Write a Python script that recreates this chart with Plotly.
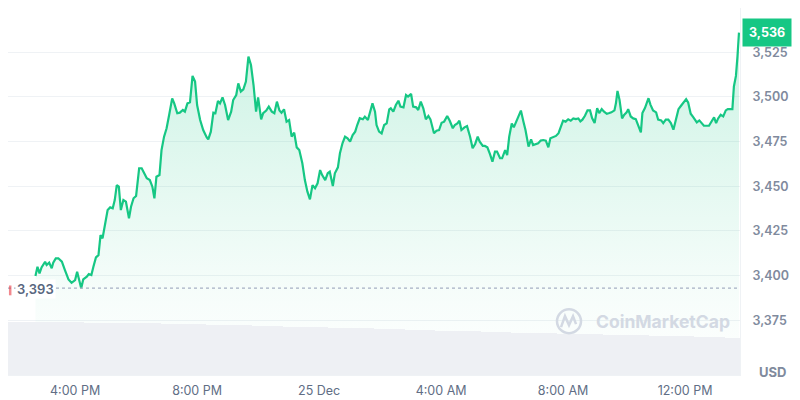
import pandas as pd
import plotly.graph_objects as go

# ---------------- data ----------------
start_time = "2024-12-24 13:48"
end_time = "2024-12-25 13:48"

price_minutes = [
    54, 58, 62, 66, 73, 76, 81, 86, 89, 94, 99, 106, 112, 119, 125, 132, 136, 140, 144, 148,
    155, 159, 164, 168, 173, 178, 182, 186, 191, 196, 201, 206, 210, 214, 218, 222, 227, 232, 238, 242,
    247, 252, 258, 263, 268, 273, 279, 284, 288, 292, 298, 302, 307, 312, 317, 323, 327, 333, 338, 344,
    348, 353, 358, 363, 368, 372, 378, 384, 391,
    394, 399, 404, 408, 413, 417, 422, 427, 433, 439, 443, 449, 453, 458, 463, 468, 473, 478, 483, 488,
    492, 498, 502, 508, 513, 519, 524, 529, 534, 538, 543, 548, 553, 558, 563, 568, 573, 579, 584, 589,
    594, 599, 604, 609, 614, 618, 624, 629, 633, 639, 643, 649, 653, 658, 663, 668, 673, 678, 683, 687,
    692, 698, 702, 708, 712, 717, 722, 725, 730, 735, 740, 745, 750,
    753, 758, 763, 768, 772, 778, 783, 787, 793, 797, 803, 807, 812, 817, 822, 827, 831, 838, 843, 848,
    853, 858, 864, 869, 875, 879, 884, 888, 892, 898, 903, 909, 914, 919, 924, 928, 934, 938, 943, 948,
    953, 958, 962, 968, 972, 978, 982, 986, 991, 995, 1001, 1005, 1009, 1014, 1018, 1024, 1029, 1033, 1039, 1043,
    1048, 1053, 1058, 1063, 1067, 1073, 1078, 1083, 1087, 1092, 1097, 1102,
    1107, 1112, 1117, 1122, 1126, 1130, 1135, 1140, 1145, 1149, 1154, 1159, 1163, 1168, 1172, 1178, 1183, 1187, 1193, 1196,
    1199, 1203, 1208, 1212, 1217, 1220, 1225, 1230, 1235, 1240, 1245, 1248, 1253, 1260, 1264, 1269, 1275, 1279, 1285, 1289,
    1294, 1299, 1304, 1309, 1314, 1319, 1324, 1328, 1334, 1338, 1343, 1348, 1355, 1360, 1364, 1369, 1374, 1379, 1384, 1389,
    1393, 1397, 1402, 1407, 1412, 1416, 1420, 1425, 1428, 1432, 1435, 1438,
]

price_values = [
    3399.8, 3405.0, 3401.3, 3404.6, 3407.8, 3406.0, 3407.3, 3404.1, 3407.3, 3409.7, 3409.7, 3407.8, 3403.1, 3397.9, 3396.0, 3397.5, 3402.2, 3397.5, 3392.9, 3397.9,
    3399.4, 3400.9, 3400.4, 3405.0, 3410.2, 3411.5, 3422.7, 3420.9, 3429.6, 3436.7, 3438.2, 3437.7, 3442.3, 3450.7, 3449.8, 3436.7, 3442.3, 3441.4, 3432.1, 3438.6,
    3443.3, 3444.6, 3460.1, 3460.1, 3457.3, 3454.5, 3453.5, 3449.8, 3443.3, 3455.4, 3456.3, 3470.3, 3477.8, 3482.5, 3489.9, 3499.2, 3496.4, 3490.9, 3491.2, 3492.7,
    3491.8, 3496.4, 3497.0, 3511.8, 3508.6, 3495.5, 3487.1, 3481.5, 3477.4,
    3476.3, 3480.6, 3491.2, 3490.9, 3497.8, 3496.4, 3499.8, 3495.5, 3487.1, 3491.8, 3498.3, 3501.1, 3507.6, 3503.0, 3504.3, 3508.6, 3522.6, 3517.9, 3506.7, 3491.8,
    3499.8, 3487.5, 3490.9, 3492.4, 3494.6, 3491.8, 3490.9, 3497.4, 3492.4, 3491.2, 3493.1, 3486.2, 3487.1, 3477.8, 3480.0, 3471.8, 3470.3, 3462.9, 3453.5, 3447.0,
    3442.7, 3450.7, 3448.9, 3451.7, 3459.1, 3456.3, 3453.5, 3457.3, 3458.2, 3450.2, 3457.3, 3460.6, 3468.5, 3474.1, 3477.8, 3476.9, 3475.0, 3478.7, 3480.6, 3484.3,
    3488.1, 3487.5, 3489.0, 3487.1, 3491.8, 3496.4, 3491.8, 3484.3, 3480.6, 3479.6, 3484.3, 3485.2, 3493.1,
    3493.7, 3491.8, 3495.5, 3497.9, 3494.6, 3494.2, 3501.1, 3500.2, 3501.7, 3494.6, 3494.2, 3492.7, 3497.4, 3493.7, 3487.5, 3489.4, 3487.5, 3479.7, 3481.1, 3481.5,
    3485.6, 3486.2, 3489.4, 3486.7, 3482.5, 3484.3, 3485.2, 3486.7, 3481.5, 3483.0, 3483.7, 3477.8, 3471.3, 3473.7, 3477.8, 3475.0, 3472.6, 3472.6, 3471.8, 3468.1,
    3463.8, 3469.4, 3469.4, 3465.7, 3465.7, 3470.3, 3467.5, 3477.8, 3485.2, 3483.0, 3487.1, 3489.4, 3492.4, 3486.2, 3481.5, 3472.2, 3476.3, 3473.1, 3473.7, 3474.1,
    3475.6, 3475.9, 3475.6, 3471.8, 3476.9, 3477.8, 3478.2, 3479.7, 3483.0, 3486.7, 3486.2, 3487.5,
    3486.7, 3488.0, 3487.6, 3488.0, 3486.3, 3487.3, 3489.5, 3492.5, 3492.5, 3488.2, 3485.4, 3493.8, 3491.0, 3493.2, 3491.9, 3490.6, 3491.0, 3491.4, 3492.5, 3496.6,
    3503.4, 3498.4, 3488.0, 3490.0, 3491.4, 3493.2, 3489.1, 3488.0, 3487.6, 3483.5, 3480.2, 3491.0, 3493.8, 3499.3, 3495.6, 3492.5, 3491.4, 3487.3, 3486.9, 3485.4,
    3487.3, 3487.3, 3485.4, 3481.7, 3488.2, 3493.2, 3495.1, 3496.6, 3498.8, 3496.9, 3490.6, 3488.7, 3485.8, 3486.9, 3485.8, 3483.9, 3483.9, 3483.9, 3486.3, 3488.6,
    3485.4, 3488.0, 3490.0, 3489.1, 3492.5, 3493.2, 3493.2, 3493.2, 3505.9, 3511.8, 3522.6, 3536.0,
]

open_price = 3393
last_price = 3536

# 24h volume (billion USD), one bar per half hour
volume_values = [
    26.6, 26.5, 26.6, 26.4, 26.4, 26.2, 26.3, 26.1, 25.9, 25.9, 25.7, 25.5, 25.4, 25.2, 25.0, 24.9,
    24.6, 24.5, 24.3, 24.1, 23.9, 23.8, 23.5, 23.4, 23.1, 22.9, 22.7, 22.6, 22.3, 22.1, 21.9, 21.8,
    21.5, 21.3, 21.2, 20.9, 20.8, 20.6, 20.4, 20.3, 20.0, 19.9, 19.7, 19.5, 19.4, 19.2, 19.0, 18.8,
]

y_ticks = [3375, 3400, 3425, 3450, 3475, 3500, 3525]
x_tick_times = ["2024-12-24 16:00", "2024-12-24 20:00", "2024-12-25 00:00",
                "2024-12-25 04:00", "2024-12-25 08:00", "2024-12-25 12:00"]
x_tick_labels = ["4:00 PM", "8:00 PM", "25 Dec", "4:00 AM", "8:00 AM", "12:00 PM"]

# ---------------- build ----------------
t0 = pd.Timestamp(start_time)
price_times = [t0 + pd.Timedelta(minutes=m) for m in price_minutes]
vol_times = pd.date_range(t0 + pd.Timedelta(minutes=15), periods=len(volume_values), freq="30min")

GREEN = "#16c784"
GRID = "#eff2f5"
LABEL = "#808a9d"
FONT = "Inter, Roboto, 'DejaVu Sans', sans-serif"

fig = go.Figure()

fig.add_trace(go.Scatter(
    x=price_times, y=price_values, mode="lines",
    line=dict(color=GREEN, width=2.2),
    fill="tozeroy",
    fillgradient=dict(type="vertical", start=3344, stop=3536,
                      colorscale=[[0, "rgba(22,199,132,0.0)"], [0.25, "rgba(22,199,132,0.04)"],
                                  [1, "rgba(22,199,132,0.22)"]]),
    hoverinfo="skip", showlegend=False,
))

fig.add_trace(go.Bar(
    x=vol_times, y=volume_values, yaxis="y2",
    width=30 * 60 * 1000, marker=dict(color="#eef0f4", line=dict(width=0)),
    hoverinfo="skip", showlegend=False,
))

# the page body adds an 8px offset, so the figure is 792x392 with zero left/top margin
fig.update_layout(
    width=792, height=392,
    margin=dict(l=0, r=60, t=0, b=25),
    paper_bgcolor="white", plot_bgcolor="white",
    font=dict(family=FONT, color=LABEL, size=12),
    bargap=0,
    xaxis=dict(
        type="date", range=[start_time, end_time],
        tickvals=x_tick_times, ticktext=x_tick_labels,
        showgrid=False, zeroline=False,
        showline=True, mirror=True, linecolor=GRID, linewidth=1,
        ticks="", ticklabelstandoff=4,
        tickfont=dict(size=12.5, color="#616e85", family=FONT),
    ),
    yaxis=dict(
        range=[3344.4, 3549.8], side="right",
        tickvals=y_ticks, tickformat=",",
        showgrid=True, gridcolor=GRID, gridwidth=1,
        zeroline=False, showline=True, mirror=True, linecolor=GRID,
        ticks="", ticklabelstandoff=9,
        tickfont=dict(size=12.5, color=LABEL, family="Inter", weight=600),
    ),
    yaxis2=dict(range=[0, 184], overlaying="y", visible=False),
)

# open price dotted reference line
fig.add_shape(type="line", xref="paper", yref="y", x0=0, x1=1, y0=open_price, y1=open_price,
              line=dict(color="#a6b0c3", width=1.2, dash="dot"), layer="above")
fig.add_shape(type="line", xref="paper", yref="y", x0=0.003, x1=0.003,
              y0=open_price - 4, y1=open_price + 1.5,
              line=dict(color="rgba(234,57,67,0.6)", width=2.5))

fig.add_annotation(xref="paper", yref="y", x=0, y=open_price, xanchor="left", yanchor="middle",
                   xshift=7, yshift=-1, text="3,393", showarrow=False, bgcolor="white", borderpad=1,
                   font=dict(size=13, color="#58667e", family="Inter", weight=600))

# last price tag
fig.add_annotation(xref="paper", yref="y", x=1, y=last_price, xanchor="left", yanchor="middle",
                   xshift=2, text="<b>3,536</b>", showarrow=False, bgcolor=GREEN, borderpad=6,
                   font=dict(size=12.5, color="white", family="Inter"))

# currency label
fig.add_annotation(xref="paper", yref="paper", x=1, y=0, xanchor="left", yanchor="middle",
                   xshift=17, yshift=3, text="<b>USD</b>", showarrow=False,
                   font=dict(size=13, color=LABEL, family="Inter"))

# watermark
fig.add_annotation(xref="paper", yref="paper", x=0.895, y=0.147, xanchor="center", yanchor="middle",
                   text="<b>CoinMarketCap</b>", showarrow=False,
                   font=dict(size=17.5, color="#d3d9e3", family="Inter"))
fig.add_shape(type="circle", xref="paper", yref="paper", x0=0.750, x1=0.7828, y0=0.114, y1=0.179,
              line=dict(color="#d3d9e3", width=2.5))
fig.add_shape(type="path", xref="paper", yref="paper",
              path="M 0.7555 0.1304 L 0.7609 0.1603 L 0.7664 0.1359 L 0.7719 0.1603 L 0.7760 0.1386",
              line=dict(color="#d3d9e3", width=2.5))

fig.write_html("out.html")
